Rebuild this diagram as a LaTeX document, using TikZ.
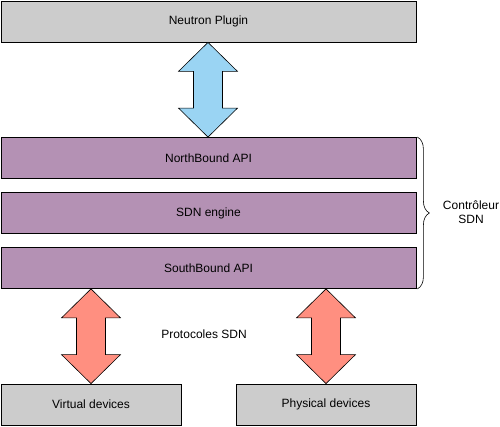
\documentclass[tikz,border=0pt]{standalone}
\usepackage{fontspec}
\setmainfont{Liberation Sans}
\usetikzlibrary{calc,decorations.pathreplacing}
\definecolor{boxgray}{HTML}{CCCCCC}
\definecolor{boxpurple}{HTML}{B491B4}
\definecolor{arrblue}{HTML}{9AD4F3}
\definecolor{arrred}{HTML}{FF8F80}
\newcommand{\dblarr}[3]{%
  \draw[blockarrow,fill=#1] (#2) -- ($(#2)+(29.5,-29)$) -- ($(#2)+(14.5,-29)$) -- ($(#3)+(14.5,29)$) -- ($(#3)+(29.5,29)$) -- (#3) -- ($(#3)+(-29.5,29)$) -- ($(#3)+(-14.5,29)$) -- ($(#2)+(-14.5,-29)$) -- ($(#2)+(-29.5,-29)$) -- cycle;}
\begin{document}
\begin{tikzpicture}[x=1pt,y=1pt,
  every node/.style={font=\fontsize{12}{14}\selectfont},
  layer/.style={draw=black,line width=0.8pt,minimum height=41pt,inner sep=0pt,anchor=center},
  graybox/.style={layer,fill=boxgray},
  purplebox/.style={layer,fill=boxpurple,minimum width=415pt},
  blockarrow/.style={draw=black,line width=0.6pt,line join=miter},
  bracestyle/.style={draw=black,line width=0.6pt,decorate,decoration={brace,amplitude=12pt}}]
\useasboundingbox (0,0) rectangle (500,426);
\node[graybox,minimum width=415pt] (np) at (208.5,404.5) {Neutron Plugin};
\node[purplebox] (nb) at (208.5,268) {NorthBound API};
\node[purplebox] (sdn) at (208.5,213) {SDN engine};
\node[purplebox] (sb) at (208.5,158) {SouthBound API};
\node[graybox,minimum width=180pt] (vd) at (91,21.5) {Virtual devices};
\node[graybox,minimum width=180pt] (pd) at (326,21.5) {Physical devices};
\coordinate (bt) at (np.south -| 208,0);
\coordinate (bb) at (nb.north -| 208,0);
\coordinate (lt) at (sb.south -| vd.north);
\coordinate (lb) at (vd.north);
\coordinate (rt) at (sb.south -| pd.north);
\coordinate (rb) at (pd.north);
\dblarr{arrblue}{bt}{bb}
\dblarr{arrred}{lt}{lb}
\dblarr{arrred}{rt}{rb}
\node (proto) at (204,92) {Protocoles SDN};
\draw[bracestyle] (nb.north east) ++(1,0) coordinate (bracetop) -- ($(sb.south east)+(1,0)$) coordinate (bracebot);
\node[align=center] (ctrl) at (471,214) {Contrôleur\\SDN};
\end{tikzpicture}
\end{document}
